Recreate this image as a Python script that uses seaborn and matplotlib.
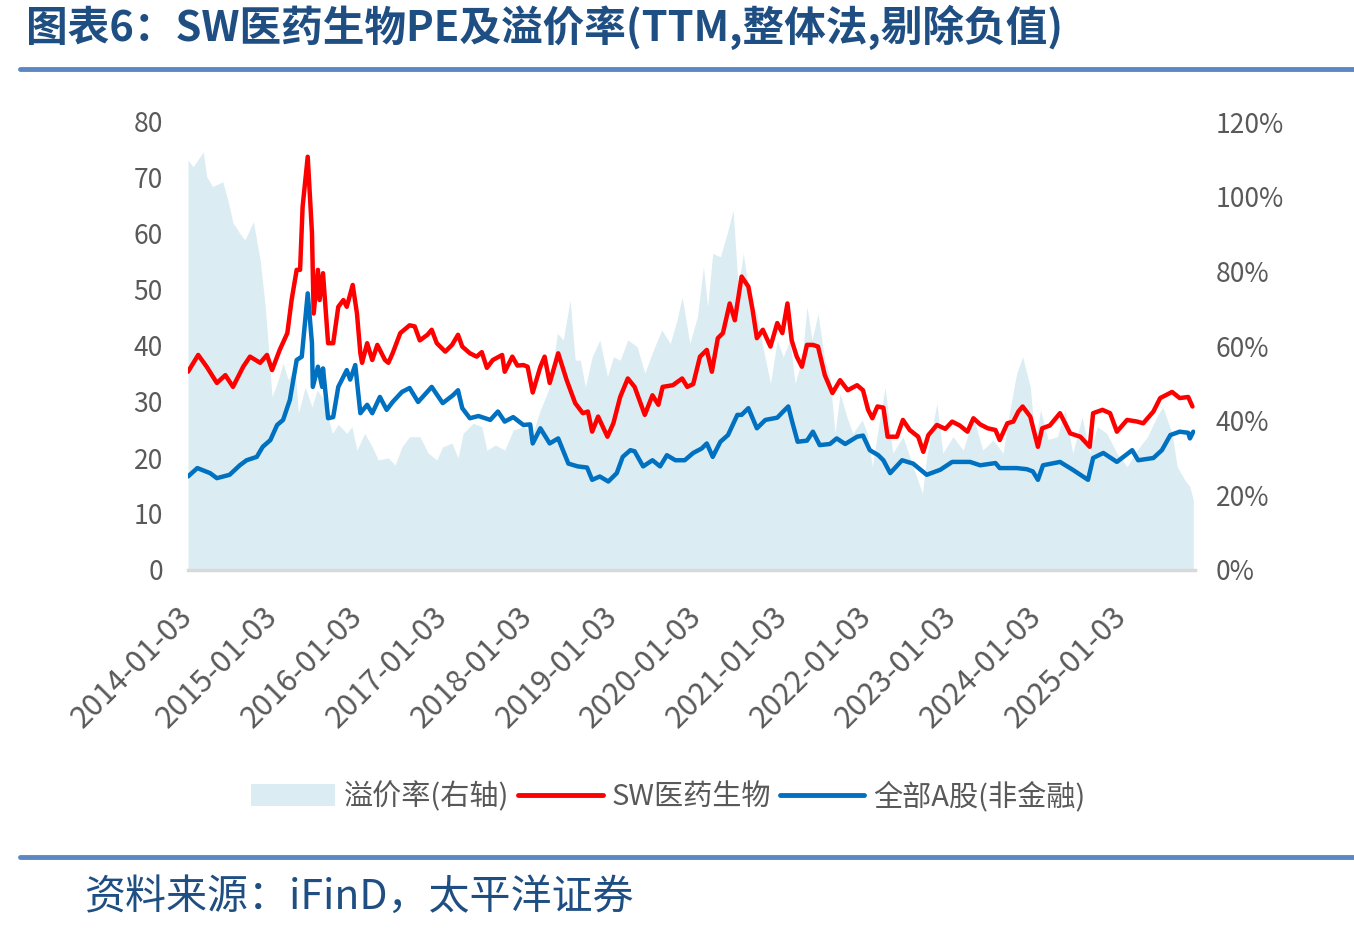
import numpy as np
import pandas as pd
import seaborn as sns
import matplotlib.pyplot as plt
from matplotlib.patches import Patch
from matplotlib.lines import Line2D
from matplotlib.ticker import FuncFormatter

# time is kept as years elapsed since 2014-01-03
start = pd.Timestamp("2014-01-03")
end_years = 11.86

sw_years = [0.00, 0.12, 0.22, 0.34, 0.44, 0.53, 0.65, 0.73, 0.85, 0.93, 0.99, 1.08, 1.17, 1.22, 1.28, 1.32,
            1.35, 1.41, 1.46, 1.48, 1.53, 1.55, 1.59, 1.65, 1.71, 1.77, 1.83, 1.87, 1.94, 1.99, 2.03, 2.05,
            2.11, 2.17, 2.23, 2.32, 2.36, 2.41, 2.50, 2.61, 2.67, 2.73, 2.82, 2.87, 2.93, 3.03, 3.11, 3.18,
            3.23, 3.32, 3.40, 3.46, 3.52, 3.59, 3.70, 3.73, 3.82, 3.88, 3.95, 4.00, 4.06, 4.15, 4.20, 4.26,
            4.36, 4.46, 4.56, 4.65, 4.71, 4.76, 4.83, 4.94, 5.01, 5.09, 5.18, 5.26, 5.38, 5.47, 5.54, 5.59,
            5.71, 5.82, 5.88, 5.95, 6.03, 6.11, 6.17, 6.24, 6.30, 6.38, 6.44, 6.52, 6.60, 6.65, 6.70, 6.77,
            6.86, 6.94, 7.00, 7.06, 7.11, 7.17, 7.23, 7.29, 7.36, 7.42, 7.50, 7.59, 7.68, 7.77, 7.88, 7.95,
            8.01, 8.06, 8.12, 8.19, 8.24, 8.35, 8.42, 8.50, 8.60, 8.66, 8.72, 8.82, 8.92, 9.00, 9.09, 9.18,
            9.25, 9.33, 9.42, 9.51, 9.56, 9.65, 9.72, 9.78, 9.83, 9.92, 10.01, 10.06, 10.15, 10.27, 10.39,
            10.51, 10.62, 10.66, 10.77, 10.86, 10.94, 11.06, 11.18, 11.25, 11.37, 11.45, 11.59, 11.68,
            11.78, 11.83]
sw_pe = [35.4, 38.4, 36.3, 33.4, 34.8, 32.7, 36.3, 38.1, 37.0, 38.4, 35.7, 39.3, 42.3, 48.2, 53.6, 53.6,
         64.9, 73.8, 60.2, 45.8, 53.6, 48.2, 53.0, 40.5, 40.5, 47.0, 48.2, 47.0, 50.9, 45.8, 38.7, 37.0,
         40.5, 37.5, 40.2, 37.5, 37.0, 38.7, 42.3, 43.7, 43.5, 41.0, 42.0, 42.9, 40.5, 39.0, 40.2, 42.0,
         39.9, 38.7, 38.1, 38.9, 36.1, 37.5, 38.4, 35.4, 38.1, 36.5, 36.6, 36.3, 31.7, 36.3, 38.1, 33.4,
         38.7, 33.9, 29.8, 28.0, 28.3, 24.7, 27.4, 23.8, 26.2, 30.9, 34.2, 32.7, 27.7, 31.2, 29.5, 32.7,
         33.0, 34.2, 32.7, 33.2, 38.1, 39.3, 35.4, 41.4, 42.3, 47.6, 44.6, 52.4, 50.6, 46.4, 41.4, 42.9,
         39.9, 44.1, 42.3, 47.6, 41.0, 38.1, 36.3, 40.2, 40.2, 39.9, 34.8, 31.6, 33.9, 32.1, 33.0, 32.1,
         28.6, 27.1, 29.2, 29.0, 23.8, 23.8, 26.8, 25.0, 23.8, 21.1, 24.1, 25.9, 25.2, 26.5, 25.8, 24.7,
         27.1, 26.0, 25.3, 25.0, 23.2, 26.2, 26.5, 28.3, 29.2, 27.4, 22.0, 25.3, 25.8, 28.0, 24.4,
         23.8, 22.0, 28.0, 28.6, 28.0, 24.7, 26.8, 26.5, 26.2, 28.3, 30.7, 31.8, 30.7,
         30.9, 29.2]

a_years = [0.00, 0.11, 0.26, 0.34, 0.49, 0.61, 0.69, 0.81, 0.88, 0.97, 1.05, 1.12, 1.20, 1.28, 1.34, 1.41,
           1.46, 1.47, 1.53, 1.58, 1.59, 1.65, 1.71, 1.77, 1.87, 1.91, 1.97, 2.03, 2.11, 2.17, 2.26, 2.34,
           2.41, 2.52, 2.61, 2.71, 2.87, 3.00, 3.12, 3.18, 3.23, 3.32, 3.42, 3.56, 3.65, 3.73, 3.83, 3.95,
           4.03, 4.06, 4.15, 4.26, 4.36, 4.48, 4.59, 4.70, 4.76, 4.85, 4.95, 5.05, 5.12, 5.21, 5.26, 5.36,
           5.47, 5.56, 5.64, 5.74, 5.85, 5.95, 6.05, 6.11, 6.18, 6.27, 6.36, 6.47, 6.52, 6.60, 6.70, 6.80,
           6.94, 7.01, 7.07, 7.11, 7.18, 7.29, 7.36, 7.44, 7.56, 7.64, 7.74, 7.88, 7.95, 8.03, 8.13, 8.19,
           8.27, 8.41, 8.54, 8.70, 8.86, 9.00, 9.21, 9.33, 9.51, 9.56, 9.76, 9.88, 9.95, 10.01, 10.07,
           10.27, 10.42, 10.60, 10.66, 10.78, 10.94, 11.12, 11.19, 11.37, 11.47, 11.57, 11.68, 11.78,
           11.80, 11.84]
a_pe = [16.7, 18.2, 17.3, 16.4, 17.0, 18.7, 19.6, 20.2, 22.0, 23.2, 25.9, 26.8, 30.4, 37.5, 38.1, 49.4,
        40.5, 32.7, 36.3, 32.7, 36.0, 27.1, 27.3, 32.7, 35.7, 34.0, 36.6, 28.0, 29.5, 28.0, 30.9, 28.6,
        30.0, 31.8, 32.5, 30.0, 32.7, 29.8, 31.2, 32.1, 28.9, 27.1, 27.5, 26.8, 28.3, 26.5, 27.3, 25.9,
        26.0, 22.6, 25.3, 22.6, 23.5, 19.0, 18.5, 18.3, 16.1, 16.7, 15.8, 17.3, 20.2, 21.4, 21.2, 18.5,
        19.6, 18.5, 20.5, 19.6, 19.6, 20.9, 21.7, 22.6, 20.2, 22.9, 24.1, 27.7, 27.7, 28.9, 25.3, 26.8,
        27.2, 28.3, 29.2, 26.8, 22.9, 23.1, 24.7, 22.3, 22.5, 23.5, 22.5, 23.8, 24.0, 21.4, 20.5, 19.6,
        17.3, 19.6, 19.0, 17.0, 17.9, 19.3, 19.3, 18.7, 19.1, 18.2, 18.2, 18.0, 17.6, 16.1, 18.7,
        19.3, 17.9, 16.1, 20.0, 20.9, 19.3, 21.4, 19.6, 20.0, 21.4, 24.1, 24.7, 24.5,
        23.5, 24.7]

prem_years = [0.00, 0.06, 0.18, 0.22, 0.29, 0.41, 0.47, 0.53, 0.61, 0.67, 0.77, 0.85, 0.91, 0.94, 0.99,
              1.05, 1.12, 1.18, 1.26, 1.30, 1.38, 1.46, 1.52, 1.59, 1.70, 1.77, 1.87, 1.93, 1.99, 2.08,
              2.17, 2.24, 2.36, 2.44, 2.52, 2.61, 2.73, 2.83, 2.93, 3.00, 3.11, 3.18, 3.24, 3.36, 3.46,
              3.52, 3.62, 3.73, 3.83, 3.95, 4.06, 4.15, 4.26, 4.35, 4.42, 4.50, 4.56, 4.62, 4.68, 4.76,
              4.85, 4.94, 5.01, 5.09, 5.18, 5.29, 5.38, 5.48, 5.58, 5.68, 5.76, 5.82, 5.91, 6.00, 6.07,
              6.12, 6.18, 6.27, 6.35, 6.42, 6.48, 6.54, 6.62, 6.70, 6.77, 6.86, 6.94, 7.01, 7.09, 7.15,
              7.23, 7.29, 7.35, 7.42, 7.50, 7.56, 7.62, 7.68, 7.76, 7.83, 7.94, 8.00, 8.06, 8.12, 8.21,
              8.30, 8.42, 8.54, 8.65, 8.70, 8.82, 8.89, 9.01, 9.13, 9.25, 9.36, 9.48, 9.60, 9.68, 9.76,
              9.83, 9.92, 9.98, 10.04, 10.13, 10.24, 10.33, 10.42, 10.53, 10.62, 10.71, 10.82, 10.94,
              11.06, 11.18, 11.30, 11.41, 11.48, 11.59, 11.65, 11.74, 11.80, 11.84]
premium = [109.8, 108.0, 112.0, 105.4, 102.7, 104.0, 99.0, 93.0, 90.2, 88.4, 93.3, 83.0, 70.5, 61.6, 46.4,
           50.0, 55.4, 50.9, 54.5, 42.0, 49.0, 43.7, 48.2, 46.0, 36.6, 39.0, 36.6, 38.4, 32.1, 36.6,
           33.0, 29.5, 30.0, 28.1, 33.0, 35.7, 35.7, 31.3, 29.5, 33.0, 34.0, 30.0, 36.6, 39.3, 38.4,
           32.1, 33.5, 32.1, 37.5, 38.4, 36.6, 42.9, 49.0, 63.4, 61.6, 72.3, 56.2, 56.2, 49.0, 57.1,
           61.6, 51.8, 57.1, 56.2, 61.6, 59.8, 52.7, 58.9, 64.3, 60.7, 67.0, 73.2, 60.7, 67.9, 81.2,
           70.5, 84.8, 83.9, 90.2, 96.4, 75.9, 84.8, 72.3, 68.7, 59.8, 50.0, 61.6, 57.1, 61.6, 50.0,
           56.2, 70.5, 61.6, 68.7, 56.2, 51.8, 36.6, 47.3, 41.0, 36.6, 40.2, 36.6, 27.7, 36.6, 49.0,
           31.3, 35.7, 27.7, 20.5, 30.4, 44.6, 31.3, 35.7, 32.1, 41.0, 32.1, 34.8, 31.3, 42.9, 52.7,
           57.1, 49.0, 34.0, 42.9, 35.0, 35.7, 42.9, 31.3, 41.0, 31.3, 38.4, 36.6, 31.3,
           27.7, 32.1, 35.7, 41.0, 43.7, 36.6, 27.7, 24.1, 22.3, 18.7]

tick_years = list(range(2014, 2026))


def to_dates(yrs):
    return start + pd.to_timedelta(np.array(yrs) * 365.25, unit="D")


sw = pd.DataFrame({"date": to_dates(sw_years), "pe": sw_pe})
allA = pd.DataFrame({"date": to_dates(a_years), "pe": a_pe})
prem = pd.DataFrame({"date": to_dates(prem_years), "p": premium})

sns.set_style("white")
plt.rcParams["font.family"] = ["Noto Sans CJK SC", "DejaVu Sans"]

AREA = "#dbedf3"
RED = "#ff0000"
BLUE = "#0070c0"
GREY = "#595959"
NAVY = "#1f4e82"

fig = plt.figure(figsize=(13.54, 9.32), dpi=100)
ax = fig.add_axes([188 / 1354, 1 - 570 / 932, (1195 - 188) / 1354, (570 - 122) / 932])
ax2 = ax.twinx()

# premium area on the right axis, behind the lines
ax2.fill_between(prem["date"], 0, prem["p"], color=AREA, lw=0)
ax2.set_ylim(0, 120)
ax2.set_yticks([0, 20, 40, 60, 80, 100, 120])
ax2.yaxis.set_major_formatter(FuncFormatter(lambda v, p: f"{v:.0f}%"))

sns.lineplot(data=sw, x="date", y="pe", ax=ax, color=RED, lw=3.2)
sns.lineplot(data=allA, x="date", y="pe", ax=ax, color=BLUE, lw=3.2)
ax.set_zorder(ax2.get_zorder() + 1)
ax.patch.set_visible(False)

ax.set_ylim(0, 80)
ax.set_yticks(range(0, 81, 10))
ax.set_xlim(start, start + pd.Timedelta(days=end_years * 365.25))
ax.set_xticks([pd.Timestamp(f"{y}-01-03") for y in tick_years])
ax.set_xticklabels([f"{y}-01-03" for y in tick_years], rotation=45, ha="right",
                   va="center", rotation_mode="anchor")
ax.set_xlabel("")
ax.set_ylabel("")

for a in (ax, ax2):
    for s in a.spines.values():
        s.set_visible(False)
    a.tick_params(length=0, labelsize=19, colors=GREY)
ax.tick_params(axis="y", pad=18)
ax.tick_params(axis="x", pad=30, labelsize=22)
ax2.tick_params(axis="y", pad=15)
ax.spines["bottom"].set_visible(True)
ax.spines["bottom"].set_color("#d9d9d9")
ax.spines["bottom"].set_linewidth(2.5)

handles = [Patch(facecolor=AREA, edgecolor="none"),
           Line2D([], [], color=RED, lw=3.5, solid_capstyle="round"),
           Line2D([], [], color=BLUE, lw=3.5, solid_capstyle="round")]
labels = ["溢价率(右轴)", "SW医药生物", "全部A股(非金融)"]
fig.legend(handles, labels, loc="center", bbox_to_anchor=(668 / 1354, 1 - 797 / 932), ncol=3,
           frameon=False, fontsize=21, labelcolor=GREY, handlelength=2.9, handleheight=0.75,
           handletextpad=0.3, columnspacing=0.3)

fig.text(26 / 1354, 1 - 27 / 932, "图表6：SW医药生物PE及溢价率(TTM,整体法,剔除负值)",
         fontsize=30, fontweight="bold", color=NAVY, va="center", ha="left")
fig.add_artist(Line2D([20 / 1354, 1], [1 - 69 / 932] * 2, color="#5b87c2", lw=3.5))
fig.add_artist(Line2D([20 / 1354, 1], [1 - 857 / 932] * 2, color="#5b87c2", lw=3.5))
fig.text(85 / 1354, 1 - 897 / 932, "资料来源：iFinD，太平洋证券", fontsize=29.5, color=NAVY,
         va="center", ha="left", style="italic")

fig.savefig("out.png", dpi=100)
